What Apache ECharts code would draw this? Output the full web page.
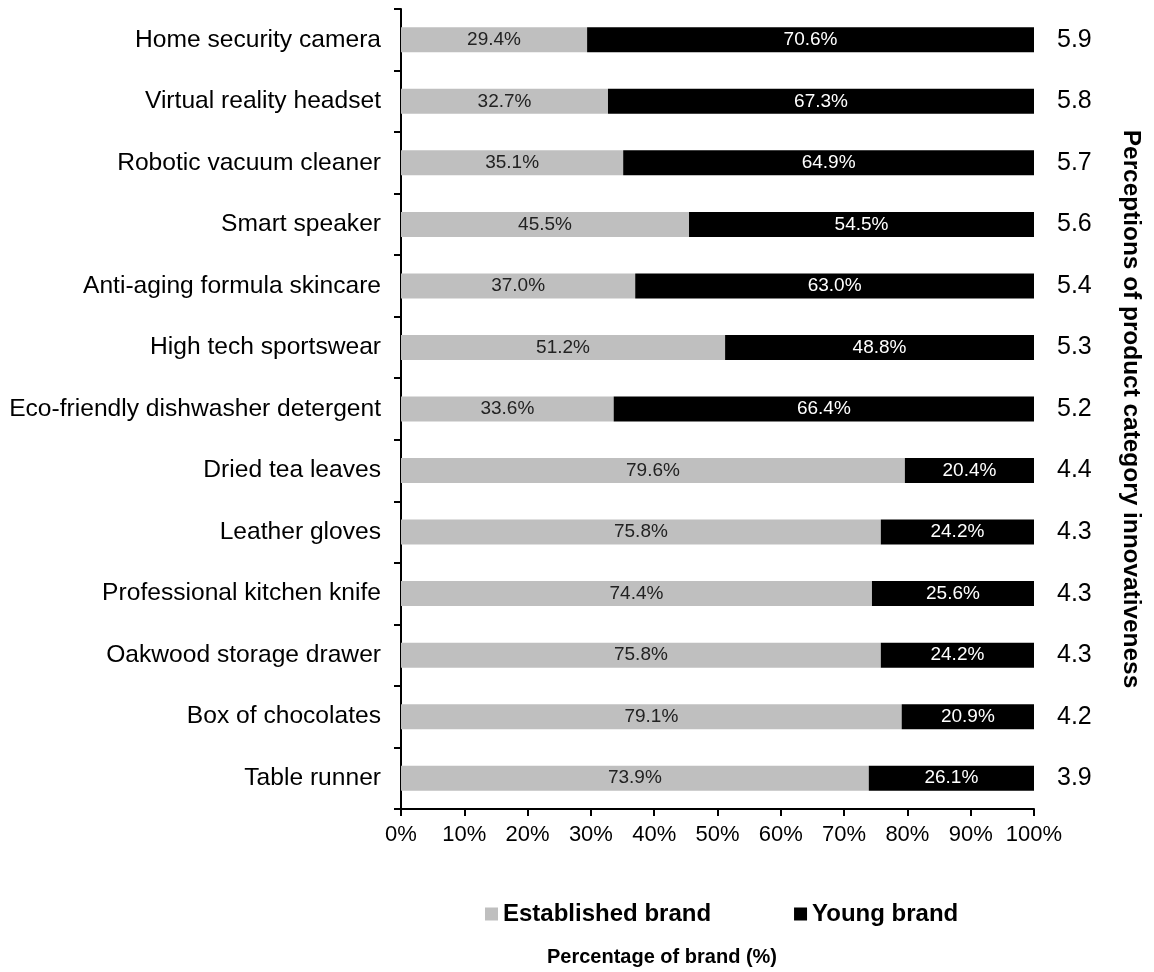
<!DOCTYPE html>
<html>
<head>
<meta charset="utf-8">
<script src="https://cdn.jsdelivr.net/npm/echarts@6/dist/echarts.min.js"></script>
<style>
  html, body { margin: 0; padding: 0; background: #fff; }
  #chart { width: 1154px; height: 972px; }
</style>
</head>
<body>
<div id="chart"></div>
<script>
// Product categories, top to bottom
const categories = [
  'Home security camera',
  'Virtual reality headset',
  'Robotic vacuum cleaner',
  'Smart speaker',
  'Anti-aging formula skincare',
  'High tech sportswear',
  'Eco-friendly dishwasher detergent',
  'Dried tea leaves',
  'Leather gloves',
  'Professional kitchen knife',
  'Oakwood storage drawer',
  'Box of chocolates',
  'Table runner'
];
// Share choosing each brand type (%)
const establishedBrand = [29.4, 32.7, 35.1, 45.5, 37.0, 51.2, 33.6, 79.6, 75.8, 74.4, 75.8, 79.1, 73.9];
const youngBrand = [70.6, 67.3, 64.9, 54.5, 63.0, 48.8, 66.4, 20.4, 24.2, 25.6, 24.2, 20.9, 26.1];
// Perceived innovativeness of each category
const innovativeness = ['5.9', '5.8', '5.7', '5.6', '5.4', '5.3', '5.2', '4.4', '4.3', '4.3', '4.3', '4.2', '3.9'];

const FONT = 'Liberation Sans, Arial, sans-serif';
const chart = echarts.init(document.getElementById('chart'), null, { renderer: 'canvas' });

chart.setOption({
  animation: false,
  textStyle: { fontFamily: FONT },
  grid: { left: 401, right: 120, top: 9, height: 800, containLabel: false, outerBoundsMode: 'none' },
  legend: {
    left: 480,
    top: 897,
    itemWidth: 13,
    itemHeight: 13,
    itemGap: 83,
    icon: 'rect',
    textStyle: { fontFamily: FONT, fontSize: 24, fontWeight: 'bold', color: '#000' },
    data: ['Established brand', 'Young brand']
  },
  title: {
    text: 'Percentage of brand (%)',
    left: 657,
    top: 942,
    textAlign: 'center',
    textStyle: { fontFamily: FONT, fontSize: 20, fontWeight: 'bold', color: '#000' }
  },
  xAxis: {
    type: 'value',
    min: 0,
    max: 100,
    interval: 10,
    splitLine: { show: false },
    axisLine: { show: true, lineStyle: { color: '#000', width: 2 } },
    axisTick: { show: true, length: 7, lineStyle: { color: '#000', width: 2 } },
    axisLabel: { formatter: '{value}%', fontSize: 22, color: '#000', margin: 15, fontFamily: FONT }
  },
  yAxis: [
    {
      type: 'category',
      data: categories,
      inverse: true,
      axisLine: { show: true, lineStyle: { color: '#000', width: 2 } },
      axisTick: { show: true, length: 7, lineStyle: { color: '#000', width: 2 } },
      axisLabel: { fontSize: 24.6, color: '#000', margin: 20, fontFamily: FONT }
    },
    {
      type: 'category',
      data: innovativeness,
      inverse: true,
      position: 'right',
      axisLine: { show: false },
      axisTick: { show: false },
      axisLabel: { fontSize: 25, color: '#000', margin: 23, fontFamily: FONT },
      name: 'Perceptions of product category innovativeness',
      nameLocation: 'middle',
      nameRotate: -90,
      nameGap: 85,
      nameTextStyle: { fontFamily: FONT, fontSize: 24.4, fontWeight: 'bold', color: '#000' }
    }
  ],
  series: [
    {
      name: 'Established brand',
      type: 'bar',
      stack: 'share',
      barWidth: 25,
      itemStyle: { color: '#bfbfbf' },
      label: {
        show: true,
        position: 'inside',
        formatter: p => p.value.toFixed(1) + '%',
        color: '#222',
        fontSize: 19,
        fontFamily: FONT
      },
      data: establishedBrand
    },
    {
      name: 'Young brand',
      type: 'bar',
      stack: 'share',
      barWidth: 25,
      itemStyle: { color: '#000' },
      label: {
        show: true,
        position: 'inside',
        formatter: p => p.value.toFixed(1) + '%',
        color: '#fff',
        fontSize: 19,
        fontFamily: FONT
      },
      data: youngBrand
    }
  ]
});
</script>
</body>
</html>
